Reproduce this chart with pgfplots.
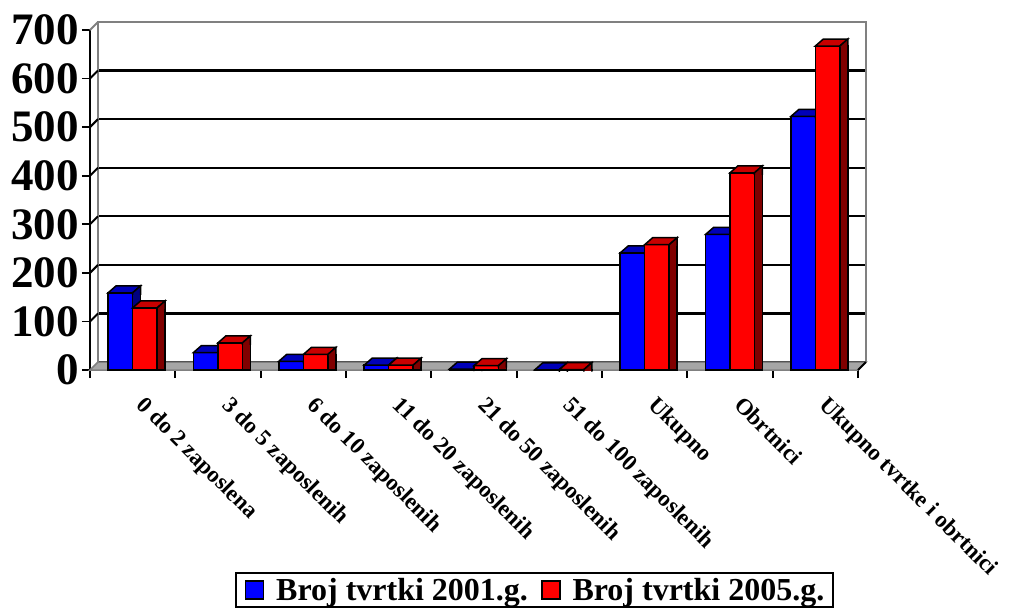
\documentclass[border=0pt]{standalone}
\usepackage{pgfplots}
\pgfplotsset{compat=1.18}
\usepackage{fontspec}
\setmainfont{Liberation Serif}
\definecolor{bluefront}{HTML}{0000FF}
\definecolor{bluetop}{HTML}{0000B8}
\definecolor{blueside}{HTML}{000080}
\definecolor{redfront}{HTML}{FF0000}
\definecolor{redtop}{HTML}{C80000}
\definecolor{redside}{HTML}{800000}
\definecolor{wallgray}{HTML}{808080}
\definecolor{floorgray}{HTML}{A6A6A6}

% top + upper side of a 3D bar; origin = top of the bar at the category centre
\pgfdeclareplotmark{topblue}{%
  \pgfsetlinewidth{1.5bp}\pgfsetmiterjoin\pgfsetstrokecolor{black}%
  \pgfsetfillcolor{bluetop}%
  \pgfpathmoveto{\pgfqpoint{-24.5bp}{0bp}}%
  \pgfpathlineto{\pgfqpoint{-16.5bp}{7bp}}%
  \pgfpathlineto{\pgfqpoint{8bp}{7bp}}%
  \pgfpathlineto{\pgfqpoint{0bp}{0bp}}%
  \pgfpathclose\pgfusepath{fill,stroke}%
  \pgfsetfillcolor{blueside}%
  \pgfpathmoveto{\pgfqpoint{0bp}{-1.2bp}}%
  \pgfpathlineto{\pgfqpoint{0bp}{0bp}}%
  \pgfpathlineto{\pgfqpoint{8bp}{7bp}}%
  \pgfpathlineto{\pgfqpoint{8bp}{-1.2bp}}%
  \pgfpathclose\pgfusepath{fill}%
  \pgfpathmoveto{\pgfqpoint{0bp}{-2bp}}%
  \pgfpathlineto{\pgfqpoint{0bp}{0bp}}%
  \pgfpathlineto{\pgfqpoint{8bp}{7bp}}%
  \pgfpathlineto{\pgfqpoint{8bp}{-2bp}}%
  \pgfusepath{stroke}%
}
\pgfdeclareplotmark{topred}{%
  \pgfsetlinewidth{1.5bp}\pgfsetmiterjoin\pgfsetstrokecolor{black}%
  \pgfsetfillcolor{redtop}%
  \pgfpathmoveto{\pgfqpoint{0bp}{0bp}}%
  \pgfpathlineto{\pgfqpoint{8bp}{7bp}}%
  \pgfpathlineto{\pgfqpoint{32.5bp}{7bp}}%
  \pgfpathlineto{\pgfqpoint{24.5bp}{0bp}}%
  \pgfpathclose\pgfusepath{fill,stroke}%
  \pgfsetfillcolor{redside}%
  \pgfpathmoveto{\pgfqpoint{24.5bp}{-1.2bp}}%
  \pgfpathlineto{\pgfqpoint{24.5bp}{0bp}}%
  \pgfpathlineto{\pgfqpoint{32.5bp}{7bp}}%
  \pgfpathlineto{\pgfqpoint{32.5bp}{-1.2bp}}%
  \pgfpathclose\pgfusepath{fill}%
  \pgfpathmoveto{\pgfqpoint{24.5bp}{-2bp}}%
  \pgfpathlineto{\pgfqpoint{24.5bp}{0bp}}%
  \pgfpathlineto{\pgfqpoint{32.5bp}{7bp}}%
  \pgfpathlineto{\pgfqpoint{32.5bp}{-2bp}}%
  \pgfusepath{stroke}%
}

\pgfplotstableread{
x v
0 159
1 36
2 18
3 10
4 2
5 0.5
6 241
7 279
8 522
}\tblue
\pgfplotstableread{
x v
0 128
1 56
2 32
3 10
4 9
5 0.8
6 258
7 406
8 667
}\tred

\begin{document}
\begin{tikzpicture}
\begin{axis}[
  name=ax,
  scale only axis, width=768bp, height=340bp,
  xmin=-0.5, xmax=8.5, ymin=0, ymax=700,
  clip=false, clip marker paths=true,
  axis lines=left,
  axis line style={-, black, line width=1.8bp},
  xtick={0,...,8},
  xticklabels={0 do 2 zaposlena, 3 do 5 zaposlenih, 6 do 10 zaposlenih, 11 do 20 zaposlenih, 21 do 50 zaposlenih, 51 do 100 zaposlenih, Ukupno, Obrtnici, Ukupno tvrtke i obrtnici},
  minor xtick={-0.5,0.5,...,8.5},
  ytick={0,100,...,700},
  tick align=outside,
  major tick length=8bp, minor tick length=8bp,
  major x tick style={draw=none},
  minor x tick style={black, line width=1.8bp},
  major y tick style={black, line width=1.8bp},
  ymajorgrids,
  major grid style={black, line width=2.2bp, xshift=8bp, yshift=8bp},
  /pgf/number format/assume math mode=true,
  yticklabel style={font=\fontsize{45bp}{45bp}\selectfont\bfseries, inner sep=0pt, xshift=-3bp},
  xticklabel style={font=\fontsize{23bp}{23bp}\selectfont\bfseries, rotate=-45, anchor=north west, inner sep=0pt, xshift=22bp, yshift=-1.5bp},
  legend columns=2,
  legend style={at={(0.5788,-0.647)}, anchor=center, draw=black, line width=1.8bp,
    font=\fontsize{32bp}{34bp}\selectfont\bfseries,
    inner xsep=9bp, inner ysep=4bp,
    nodes={inner xsep=0bp, inner ysep=1bp},
    /tikz/every odd column/.append style={column sep=12bp},
    /tikz/every even column/.append style={column sep=13bp}},
]
% floor
\fill[floorgray, draw=wallgray, line width=1.5bp]
  (rel axis cs:0,0) -- (rel axis cs:1,0) -- ([shift={(8bp,8bp)}]rel axis cs:1,0) -- ([shift={(8bp,8bp)}]rel axis cs:0,0) -- cycle;
% back wall outline
\draw[wallgray, line width=2.2bp]
  ([shift={(8bp,8bp)}]rel axis cs:0,0) -- ([shift={(8bp,8bp)}]rel axis cs:0,1) -- ([shift={(8bp,8bp)}]rel axis cs:1,1) -- ([shift={(8bp,8bp)}]rel axis cs:1,0);
\draw[wallgray, line width=2bp] (rel axis cs:0,1) -- ([shift={(8bp,8bp)}]rel axis cs:0,1);
% side-wall parts of the grid lines
\pgfplotsinvokeforeach{100,200,300,400,500,600}{
  \draw[black, line width=2bp] (axis cs:-0.5,#1) -- ([shift={(8bp,8bp)}]axis cs:-0.5,#1);
}
\draw[black, line width=1.8bp] (rel axis cs:1,0) -- ([shift={(8bp,8bp)}]rel axis cs:1,0);

% blue series
\addplot[ybar, bar width=24.5bp, bar shift=-4.25bp, fill=blueside, draw=black, line width=1.5bp, forget plot] table[x=x,y=v]{\tblue};
\addplot[ybar, bar width=24.5bp, bar shift=-12.25bp, fill=bluefront, draw=black, line width=1.5bp,
  legend image code/.code={\draw[fill=bluefront, draw=black, line width=1.5bp] (0bp,-9bp) rectangle (18bp,9bp);}] table[x=x,y=v]{\tblue};
\addlegendentry{Broj tvrtki 2001.g.}
\addplot[only marks, mark=topblue, forget plot] table[x=x,y=v]{\tblue};
% red series
\addplot[ybar, bar width=24.5bp, bar shift=20.25bp, fill=redside, draw=black, line width=1.5bp, forget plot] table[x=x,y=v]{\tred};
\addplot[ybar, bar width=24.5bp, bar shift=12.25bp, fill=redfront, draw=black, line width=1.5bp,
  legend image code/.code={\draw[fill=redfront, draw=black, line width=1.5bp] (0bp,-9bp) rectangle (18bp,9bp);}] table[x=x,y=v]{\tred};
\addlegendentry{Broj tvrtki 2005.g.}
\addplot[only marks, mark=topred, forget plot] table[x=x,y=v]{\tred};
\end{axis}
\pgfresetboundingbox
\path[use as bounding box] ([shift={(-90bp,-243bp)}]ax.south west) rectangle ([shift={(923bp,370bp)}]ax.south west);
\end{tikzpicture}
\end{document}
